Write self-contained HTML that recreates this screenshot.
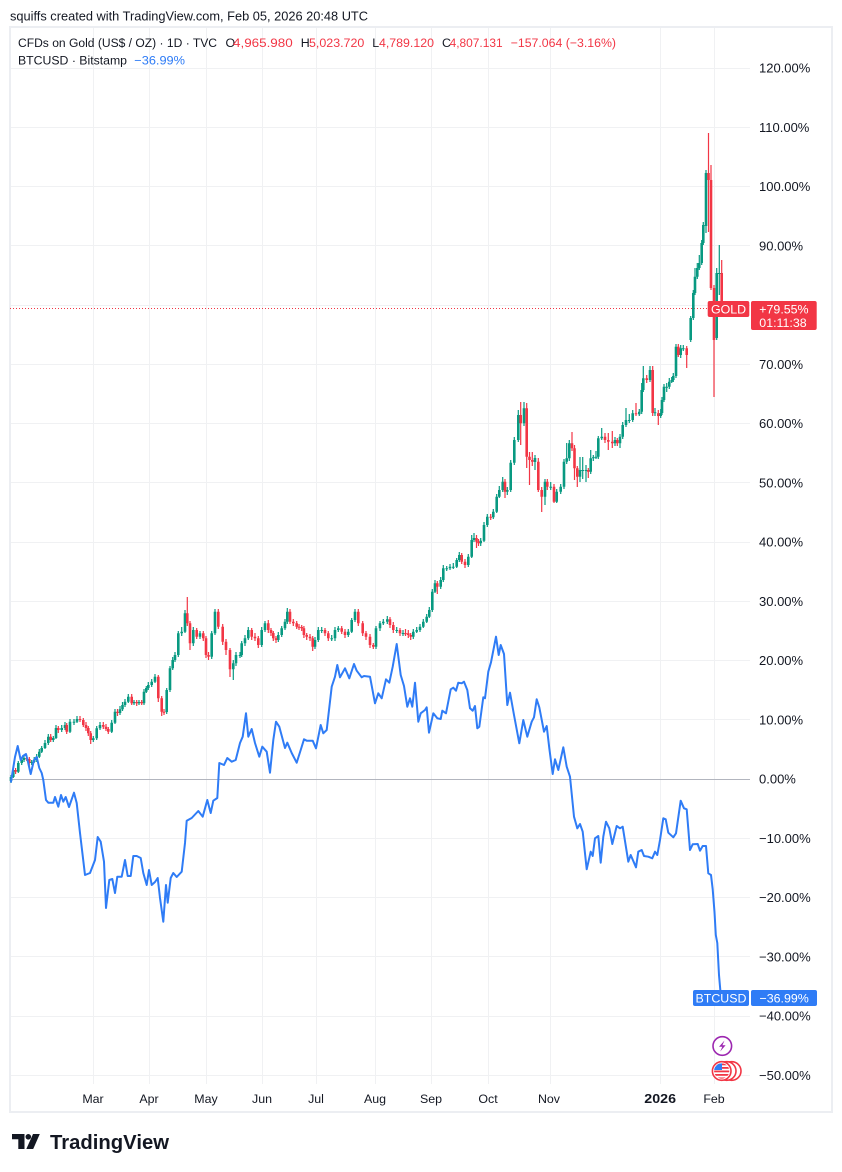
<!DOCTYPE html>
<html>
<head>
<meta charset="utf-8">
<style>
  html,body{margin:0;padding:0;background:#ffffff;}
  body{width:842px;height:1172px;overflow:hidden;}
  svg{display:block;}
  text{font-family:"Liberation Sans",sans-serif;}
</style>
</head>
<body>
<svg width="842" height="1172" viewBox="0 0 842 1172" xmlns="http://www.w3.org/2000/svg">
  <rect x="0" y="0" width="842" height="1172" fill="#ffffff"/>

  <!-- title -->
  <text x="10" y="20.3" font-size="13" fill="#131722" textLength="358" lengthAdjust="spacingAndGlyphs">squiffs created with TradingView.com, Feb 05, 2026 20:48 UTC</text>

  <!-- frame -->
  <rect x="10" y="27" width="822" height="1085" fill="#ffffff" stroke="#eceef2" stroke-width="2"/>

  <!-- vertical grid -->
  <g stroke="#f0f1f3" stroke-width="1">
    <path d="M93.5 28V1084M149.5 28V1084M206.5 28V1084M262.5 28V1084M316.5 28V1084M375.5 28V1084M431.5 28V1084M488.5 28V1084M550.5 28V1084M660.5 28V1084M714.5 28V1084"/>
  </g>
  <!-- horizontal grid -->
  <g stroke="#f0f1f3" stroke-width="1">
    <path d="M11 68.5H750M11 127.5H750M11 186.5H750M11 245.5H750M11 305.5H750M11 364.5H750M11 423.5H750M11 482.5H750M11 542.5H750M11 601.5H750M11 660.5H750M11 719.5H750M11 838.5H750M11 897.5H750M11 956.5H750M11 1016.5H750M11 1075.5H750"/>
  </g>
  <path d="M11 779.5H750" stroke="#b2b5be" stroke-width="1"/>

  <!-- legend -->
  <text y="47.2" font-size="12.4" fill="#131722">
    <tspan x="18" textLength="199" lengthAdjust="spacingAndGlyphs">CFDs on Gold (US$ / OZ) · 1D · TVC</tspan>
  </text>
  <text y="47.2" font-size="12.4" fill="#131722"><tspan x="225.5">O</tspan></text>
  <text x="233" y="47.2" font-size="12.4" fill="#f23645" textLength="59.7" lengthAdjust="spacingAndGlyphs">4,965.980</text>
  <text x="300.7" y="47.2" font-size="12.4" fill="#131722">H</text>
  <text x="309" y="47.2" font-size="12.4" fill="#f23645" textLength="55.3" lengthAdjust="spacingAndGlyphs">5,023.720</text>
  <text x="372.3" y="47.2" font-size="12.4" fill="#131722">L</text>
  <text x="379" y="47.2" font-size="12.4" fill="#f23645" textLength="55" lengthAdjust="spacingAndGlyphs">4,789.120</text>
  <text x="442" y="47.2" font-size="12.4" fill="#131722">C</text>
  <text x="449.6" y="47.2" font-size="12.4" fill="#f23645" textLength="53" lengthAdjust="spacingAndGlyphs">4,807.131</text>
  <text x="510.7" y="47.2" font-size="12.4" fill="#f23645" textLength="105.3" lengthAdjust="spacingAndGlyphs">−157.064 (−3.16%)</text>

  <text x="18" y="64.5" font-size="12.4" fill="#131722" textLength="109" lengthAdjust="spacingAndGlyphs">BTCUSD · Bitstamp</text>
  <text x="134.3" y="64.5" font-size="12.4" fill="#2f7cf6" textLength="50.7" lengthAdjust="spacingAndGlyphs">−36.99%</text>

  <!-- price axis labels -->
  <g font-size="13" fill="#131722">
    <text x="759" y="72.6">120.00%</text>
    <text x="759" y="131.9">110.00%</text>
    <text x="759" y="191.1">100.00%</text>
    <text x="759" y="250.4">90.00%</text>
    <text x="759" y="368.9">70.00%</text>
    <text x="759" y="428.1">60.00%</text>
    <text x="759" y="487.4">50.00%</text>
    <text x="759" y="546.6">40.00%</text>
    <text x="759" y="605.9">30.00%</text>
    <text x="759" y="665.1">20.00%</text>
    <text x="759" y="724.4">10.00%</text>
    <text x="759" y="783.6">0.00%</text>
    <text x="759" y="842.9">−10.00%</text>
    <text x="759" y="902.1">−20.00%</text>
    <text x="759" y="961.4">−30.00%</text>
    <text x="759" y="1020.6">−40.00%</text>
    <text x="759" y="1079.9">−50.00%</text>
  </g>

  <!-- time axis labels -->
  <g font-size="12.4" fill="#131722" text-anchor="middle">
    <text x="93" y="1103">Mar</text>
    <text x="149" y="1103">Apr</text>
    <text x="206" y="1103">May</text>
    <text x="262" y="1103">Jun</text>
    <text x="316" y="1103">Jul</text>
    <text x="375" y="1103">Aug</text>
    <text x="431" y="1103">Sep</text>
    <text x="488" y="1103">Oct</text>
    <text x="549" y="1103">Nov</text>
    <text x="714" y="1103">Feb</text>
  </g>
  <text x="644.3" y="1103" font-size="13" font-weight="bold" fill="#131722" textLength="31.7" lengthAdjust="spacingAndGlyphs">2026</text>

  <!-- gold dotted price line -->
  <path d="M10 308.5H707" stroke="#f23645" stroke-width="1" stroke-dasharray="1 2"/>

  <!-- gold wicks -->
  <path fill="none" stroke="#089981" stroke-width="1.2" d="M11 775V783M13.3 768V778M18.3 761V773M21.7 758V765M24 756V762M31.7 760V765M34.2 757V763M36.7 754V762M39.3 749V758M41.7 746V753M45 740V749M48.3 734V745M53.3 736V742M56 725V739M61.7 725V732M65 722V730M70 719V733M74 719V725M77 716V723M93.3 736V742M96.7 726V740M100 722V730M111.7 720V733M115 709V724M120 706V715M122.5 702V711M125 699V707M128.3 694V703M134 700V705M139 700V705M144 689V705M146.3 686V693M148.3 682V690M151.7 679V687M155 674V683M166.7 688V714M170 666V692M172.7 657V670M175 652V662M178.3 631V657M181.7 627V636M185 610V633M193.3 627V646M200 631V639M211.7 631V659M215 609V635M233.3 660V680M236 652V666M240 652V658M241.7 641V657M245 635V646M248.3 627V640M261.7 627V647M265 621V632M278.3 632V642M281.7 626V637M285 619V630M287.3 608V624M315 637V649M318.3 627V642M321.7 627V633M331.7 635V641M335 627V641M338.3 626V632M348.3 629V637M351.7 618V633M355 609V622M376 626V649M380 621V631M383.3 619V625M387.3 616V624M396.7 627V633M403 630V636M413.3 629V639M416.7 627V633M420 624V632M423.3 619V628M426.7 614V623M429.3 607V618M432.3 589V612M435 580V593M440.7 577V589M443.3 565V582M446.7 566V571M450 564V570M453.3 563V569M456.7 558V568M459.3 552V562M468.3 554V567M471.7 535V558M474 533V542M480.7 538V546M484 522V542M487.3 514V527M493.3 509V519M496.7 494V513M499.3 486V498M502.7 477V492M507.3 487V495M510.7 460V492M514.3 437V465M518.3 410V442M524 402V426M535 455V470M545 479V505M550.7 482V490M556.7 489V503M560.7 484V494M564 459V489M566.7 443V464M569.3 440V461M580 457V482M582.7 457V479M586 465V482M590.7 450V474M593.3 455V461M596 451V459M598.3 436V459M601.7 428V440M615 437V446M620 434V448M622.7 422V439M626 408V427M629.3 414V423M632.7 410V422M639.3 409V416M641.7 383V414M643.3 366V392M650 366V382M655 408V416M660.7 409V418M662 397V415M664 384V402M666.7 383V392M669.3 378V389M671.7 377V383M673.3 373V382M676 344V378M680.7 345V358M683.3 345V351M690.7 316V342M693.3 290V320M695 268V295M697.3 263V279M699.3 255V270M701.7 240V265M703.3 222V245M706 170V233M716.7 268V340M719.3 245V295"/>
  <path fill="none" stroke="#f23645" stroke-width="1.2" d="M15.6 768V774M26.7 755V761M29.3 757V766M50.7 734V742M58.3 726V733M66.7 723V734M80 716V722M83.3 718V727M86 722V731M88.3 726V736M90.7 731V744M103.3 722V729M106 724V731M108.3 727V734M117.5 709V716M131.7 694V705M136.7 700V706M141.7 700V705M158.3 675V702M161.7 696V716M164 709V715M187.3 597V626M190 621V650M196.7 628V639M203.3 631V641M206 636V658M208.5 652V660M218.3 609V629M222.7 624V645M226 639V655M230 648V677M251.7 628V640M255 633V641M258.3 636V648M268.3 620V633M271 628V636M273.3 631V641M276 636V643M290 609V624M293.3 619V626M296.7 621V629M299 624V630M301.7 625V631M303.9 626V638M306.7 633V640M310 634V641M312.7 636V651M325 628V636M328.3 631V641M341.7 626V634M345 629V638M358.3 609V626M362.7 621V636M366 631V640M370 634V648M373.3 643V649M390 617V628M393.3 622V633M400 628V636M405.5 629V636M408.3 630V638M410.7 633V640M437.3 581V594M461.7 553V564M465 559V568M476.5 535V548M478.5 539V546M490.7 514V520M505 479V498M520.7 402V445M526.7 403V468M529.5 452V485M532.3 452V466M538.3 458V492M541.7 487V512M547.3 479V490M554 484V503M572 432V451M574.5 445V480M577.3 466V487M588.3 468V478M605 433V443M608.3 433V450M612.3 431V448M617.3 438V446M636 403V416M646.7 375V383M652.7 366V416M658.3 410V425M678.3 344V357M686.7 346V368M708.5 133V232M711 165V290M714 285V397M721.7 260V310"/>

  <!-- gold bodies -->
  <path fill="none" stroke="#089981" stroke-width="2.6" d="M11 777V781M13.3 770V777M18.3 763V771.7M21.7 760V763M24 758V760M31.7 762V763M34.2 760V762M36.7 756.7V760M39.3 751.7V756.7M41.7 748V751.7M45 743V748M48.3 736.7V743M53.3 738V740M56 728V738M61.7 728V730M65 725V728M70 721.7V731.7M74 721.7V722.7M77 719V721.7M93.3 738.3V740M96.7 728.3V738.3M100 725V728.3M111.7 722.7V731.7M115 711.7V722.7M120 709.3V713M122.5 705V709.3M125 701.7V705M128.3 696.7V701.7M134 702V703.3M139 702V703.3M144 691.7V703.3M146.3 688V691.7M148.3 685V688M151.7 681.7V685M155 676.7V681.7M166.7 690V712M170 668.3V690M172.7 660V668.3M175 655V660M178.3 633.3V655M181.7 631.7V633.3M185 613.3V631.7M193.3 630V643.3M200 633.3V636.7M211.7 633.3V656.7M215 611.7V633.3M233.3 663.3V669.3M236 655V663.3M240 655V656M241.7 643.3V655M245 638.3V643.3M248.3 630V638.3M261.7 630V645M265 623.3V630M278.3 635V640M281.7 628.3V635M285 621.7V628.3M287.3 611.7V621.7M315 640V646.7M318.3 630V640M321.7 630V631M331.7 638.3V639.3M335 630V638.3M338.3 628.3V630M348.3 631.7V635M351.7 620V631.7M355 611.7V620M376 628.3V646.7M380 623.3V628.3M383.3 621.7V623.3M387.3 619.3V621.7M396.7 630V631M403 633V634M413.3 631.7V636.7M416.7 630V631.7M420 626.7V630M423.3 621.7V626.7M426.7 616.7V621.7M429.3 610V616.7M432.3 591.7V610M435 583.3V591.7M440.7 580V586.7M443.3 568.3V580M446.7 568.3V569.3M450 566.7V568.3M453.3 566.7V567.7M456.7 560V566.7M459.3 555V560M468.3 556.7V565M471.7 540V556.7M474 538V540M480.7 540.7V543.3M484 525V540.7M487.3 516.7V525M493.3 511.7V517.3M496.7 496.7V511.7M499.3 490V496.7M502.7 481.7V490M507.3 490V491.7M510.7 462.7V490M514.3 440V462.7M518.3 415V440M524 408.3V423.3M535 458V462M545 481.7V496.7M550.7 486.7V487.7M556.7 491.7V501.7M560.7 486.7V491.7M564 461.7V486.7M566.7 458.3V461.7M569.3 443.3V458.3M580 470V476.7M582.7 470V471M586 470V471M590.7 458.3V471.7M593.3 457.3V458.3M596 456.7V457.7M598.3 438.3V456.7M601.7 436.7V438.3M615 440V443.3M620 436.7V443.3M622.7 425V436.7M626 420V425M629.3 420V421M632.7 413.3V420M639.3 411.7V414.3M641.7 390V411.7M643.3 378.3V390M650 370V380M655 412.3V413.3M660.7 413V416M662 400V413M664 386.7V400M666.7 386.7V387.7M669.3 381.7V386.7M671.7 380V381.7M673.3 376V380M676 346.7V376M680.7 348.3V355M683.3 348.3V349.3M690.7 318V340M693.3 293V318M695 276.7V293M697.3 268V276.7M699.3 263V268M701.7 243V263M703.3 225V243M706 173V226M716.7 273V338M719.3 273V274"/>
  <path fill="none" stroke="#f23645" stroke-width="2.6" d="M15.6 770V771.7M26.7 758V759M29.3 759V763M50.7 736.7V740M58.3 728V730M66.7 725V731.7M80 719V720M83.3 720V725M86 725V728M88.3 728V733.3M90.7 733.3V740M103.3 725V726.7M106 726.7V729M108.3 729V731.7M117.5 711.7V713M131.7 696.7V703.3M136.7 702V703.3M141.7 702V703.3M158.3 676.7V698.3M161.7 698.3V711.7M164 711.7V712.7M187.3 613.3V623.3M190 623.3V643.3M196.7 630V636.7M203.3 633.3V638.3M206 638.3V655M208.5 655V656.7M218.3 611.7V626.7M222.7 626.7V641.7M226 641.7V650M230 650V669.3M251.7 630V636.7M255 636.7V638.3M258.3 638.3V645M268.3 623.3V630M271 630V633M273.3 633V638.3M276 638.3V640M290 611.7V621.7M293.3 621.7V623.3M296.7 623.3V626.7M299 626.7V627.7M301.7 627V628.3M303.9 628.3V635M306.7 635V636.7M310 636.7V638.3M312.7 638.3V646.7M325 630V633.3M328.3 633.3V638.3M341.7 628.3V631.7M345 631.7V635M358.3 611.7V623.3M362.7 623.3V633.3M366 633.3V636.7M370 636.7V645M373.3 645V646.7M390 619.3V625M393.3 625V630M400 630V633.3M405.5 633V634.3M408.3 633.3V635M410.7 635V636.7M437.3 583.3V586.7M461.7 555V561.7M465 561.7V565M476.5 538V541.7M478.5 541.7V543.3M490.7 516.7V517.7M505 481.7V491.7M520.7 415V423.3M526.7 408.3V456.7M529.5 456.7V460M532.3 460V461.7M538.3 461.7V490M541.7 490V496.7M547.3 481.7V486.7M554 486.7V501.7M572 443.3V448.3M574.5 448.3V468.3M577.3 468.3V476.7M588.3 470V471.7M605 436.7V440M608.3 440V441.7M612.3 441.7V443.3M617.3 440V443.3M636 413.3V414.3M646.7 378.3V380M652.7 370V413M658.3 413.3V416M678.3 346.7V355M686.7 348.3V355M708.5 173V180M711 180V288M714 288V340M721.7 273V308"/>

  <!-- BTC line -->
  <polyline fill="none" stroke="#2f7cf6" stroke-width="2" stroke-linejoin="round" stroke-linecap="round" points="11,781.7 15,757 17.7,746 20.7,760 23,756 26,754 28,762 30.7,774 34,760 36.7,757 39.3,768 41.7,773 43.3,780 46,800 48.3,802.7 53.3,802.7 55,797 58.3,806.7 61,795 63.3,801.7 65.7,797 69,807 74,792.7 76.7,803 80,833 85,875 90,873 95,860 97.7,837 100.7,841.7 104,861.7 106,908 109.3,880 112.3,879 115,893 117.3,876.7 121.7,876.7 125,860 127.7,876 130.7,876 133.3,856 136.7,856 140.7,858 143.3,873 146.7,885 149,870 151.7,885 155,882 157.7,878 160,898 163.3,921.7 166,885 167.7,902.7 170.7,878 173.3,873 176.7,877 181.7,871.7 185,843 186.7,820.7 191.7,818 198.3,811 202.7,816.7 207.3,800 210.7,813 213.3,800.7 217.3,798 219.3,763 224,765 227.3,758 231.7,761.7 235.7,760 240,743 242.7,736.7 246,713.3 248.3,736.7 251.7,729 255,743 259.3,756.7 262.3,746.7 266.7,751.7 270,772.7 273.3,740 276,721.7 279.3,726.7 285,748 287.3,742.7 291.7,753 296.7,762.7 300.7,750 304,739.3 306.7,740.7 312.7,740.7 316,748.3 320.7,725 323.3,733.3 326.7,730 331.7,686.7 335,676.7 337.3,665 340,677.3 345,668.3 349.3,678.3 354,664 356.7,670.7 361.7,677.3 364,676 370,676.7 375,703.3 378.3,693.3 381.7,698.3 386,679.3 389.3,682.7 392.7,666.7 396.7,644 400.7,675 404,686 407.3,706.7 410,698.3 412.3,706.7 415,682.7 418.3,721.7 420.7,713.3 425,710 426.7,707.3 429,732.7 433.3,713.3 437.3,718.3 440.7,719 442.3,710.7 446,713.3 450.7,689.3 453.3,687.7 456,690.7 458.3,682.7 461.7,683.3 464,681.7 467.3,690 470,708.3 472.7,710.7 475,706 477.3,728.3 479.3,726.7 483.3,697.3 485,698.3 488.3,671.7 491,662.3 496,636.7 498.7,655 500.7,645 504,654 507.3,705 510,692.7 514,715 519.3,743.3 523.3,720 527.3,736.7 531.7,721.7 534,717.3 536.7,699.3 539.3,707.3 544,731.7 546.7,726 549.3,748.3 552.7,774 555,759.3 558.3,770 563.3,747.3 566.7,766.7 570,776.7 574,816.7 577.3,828.3 580,824 582.7,831.7 586.7,869.3 590.7,851.7 592.7,856 595,838.3 598.3,836 600.7,862.7 603.3,836.7 606,821.7 609.3,828.3 612.3,844 616.7,826 620,828.3 622.7,826.7 628.3,861.7 630.7,855 636,867.3 638.3,851.7 641.7,850 644,856 648.3,856.7 652.3,858.3 655,851.7 657.3,855 660,840 663.3,818.3 665.7,819.3 668.3,832.7 673.3,837.3 676,833.3 680.7,800.7 684,808.3 686.7,809.3 690,850 692.7,844.3 697.7,844 700,850.7 702.7,846 706,846 708.3,873.3 711,875 712.7,889.3 714.5,912 715.8,935 717.3,943 719,975 721,998"/>

  <!-- GOLD labels -->
  <rect x="707.7" y="301" width="41.6" height="16" rx="2" fill="#f23645"/>
  <text x="728.5" y="313.3" font-size="12.4" fill="#ffffff" text-anchor="middle">GOLD</text>
  <rect x="751" y="301" width="65.7" height="29" rx="2" fill="#f23645"/>
  <text x="759.3" y="313.3" font-size="12.4" fill="#ffffff">+79.55%</text>
  <text x="759.3" y="326.8" font-size="12.4" fill="#ffffff">01:11:38</text>

  <!-- BTC labels -->
  <rect x="693" y="990" width="56" height="16" rx="2" fill="#2f7cf6"/>
  <text x="721" y="1002.5" font-size="12.4" fill="#ffffff" text-anchor="middle">BTCUSD</text>
  <rect x="751" y="990" width="66" height="16" rx="2" fill="#2f7cf6"/>
  <text x="759.5" y="1002.5" font-size="12.4" fill="#ffffff">−36.99%</text>

  <!-- event icons -->
  <circle cx="722.3" cy="1046" r="9.3" fill="#ffffff" stroke="#9c27b0" stroke-width="1.6"/>
  <path d="M724.5 1040.5 L719 1046.8 L722.3 1046.8 L720.2 1051.5 L725.6 1045.2 L722.4 1045.2 Z" fill="#9c27b0"/>

  <defs>
    <clipPath id="flagclip"><circle cx="721.7" cy="1071" r="7.6"/></clipPath>
  </defs>
  <circle cx="731.7" cy="1071" r="9.3" fill="#ffffff" stroke="#f23645" stroke-width="1.6"/>
  <circle cx="726.7" cy="1071" r="9.3" fill="#ffffff" stroke="#f23645" stroke-width="1.6"/>
  <circle cx="721.7" cy="1071" r="9.3" fill="#ffffff" stroke="#f23645" stroke-width="1.6"/>
  <g clip-path="url(#flagclip)">
    <rect x="713" y="1062" width="18" height="18" fill="#ffffff"/>
    <rect x="713" y="1063.5" width="18" height="1.8" fill="#f23645"/>
    <rect x="713" y="1067" width="18" height="1.8" fill="#f23645"/>
    <rect x="713" y="1070.5" width="18" height="1.8" fill="#f23645"/>
    <rect x="713" y="1074" width="18" height="1.8" fill="#f23645"/>
    <rect x="713" y="1077.5" width="18" height="1.8" fill="#f23645"/>
    <rect x="713" y="1062" width="9" height="8" fill="#2f7cf6"/>
  </g>

  <!-- TradingView logo -->
  <g fill="#131722">
    <path d="M12 1134 H24.5 V1149 H18.3 V1139.3 H12 Z"/>
    <circle cx="28.3" cy="1136.8" r="2.8"/>
    <path d="M33 1134 H39.8 L33.2 1149 H26.3 Z"/>
  </g>
  <text x="50" y="1149" font-size="20" font-weight="bold" fill="#131722" textLength="119" lengthAdjust="spacingAndGlyphs">TradingView</text>
</svg>
</body>
</html>
